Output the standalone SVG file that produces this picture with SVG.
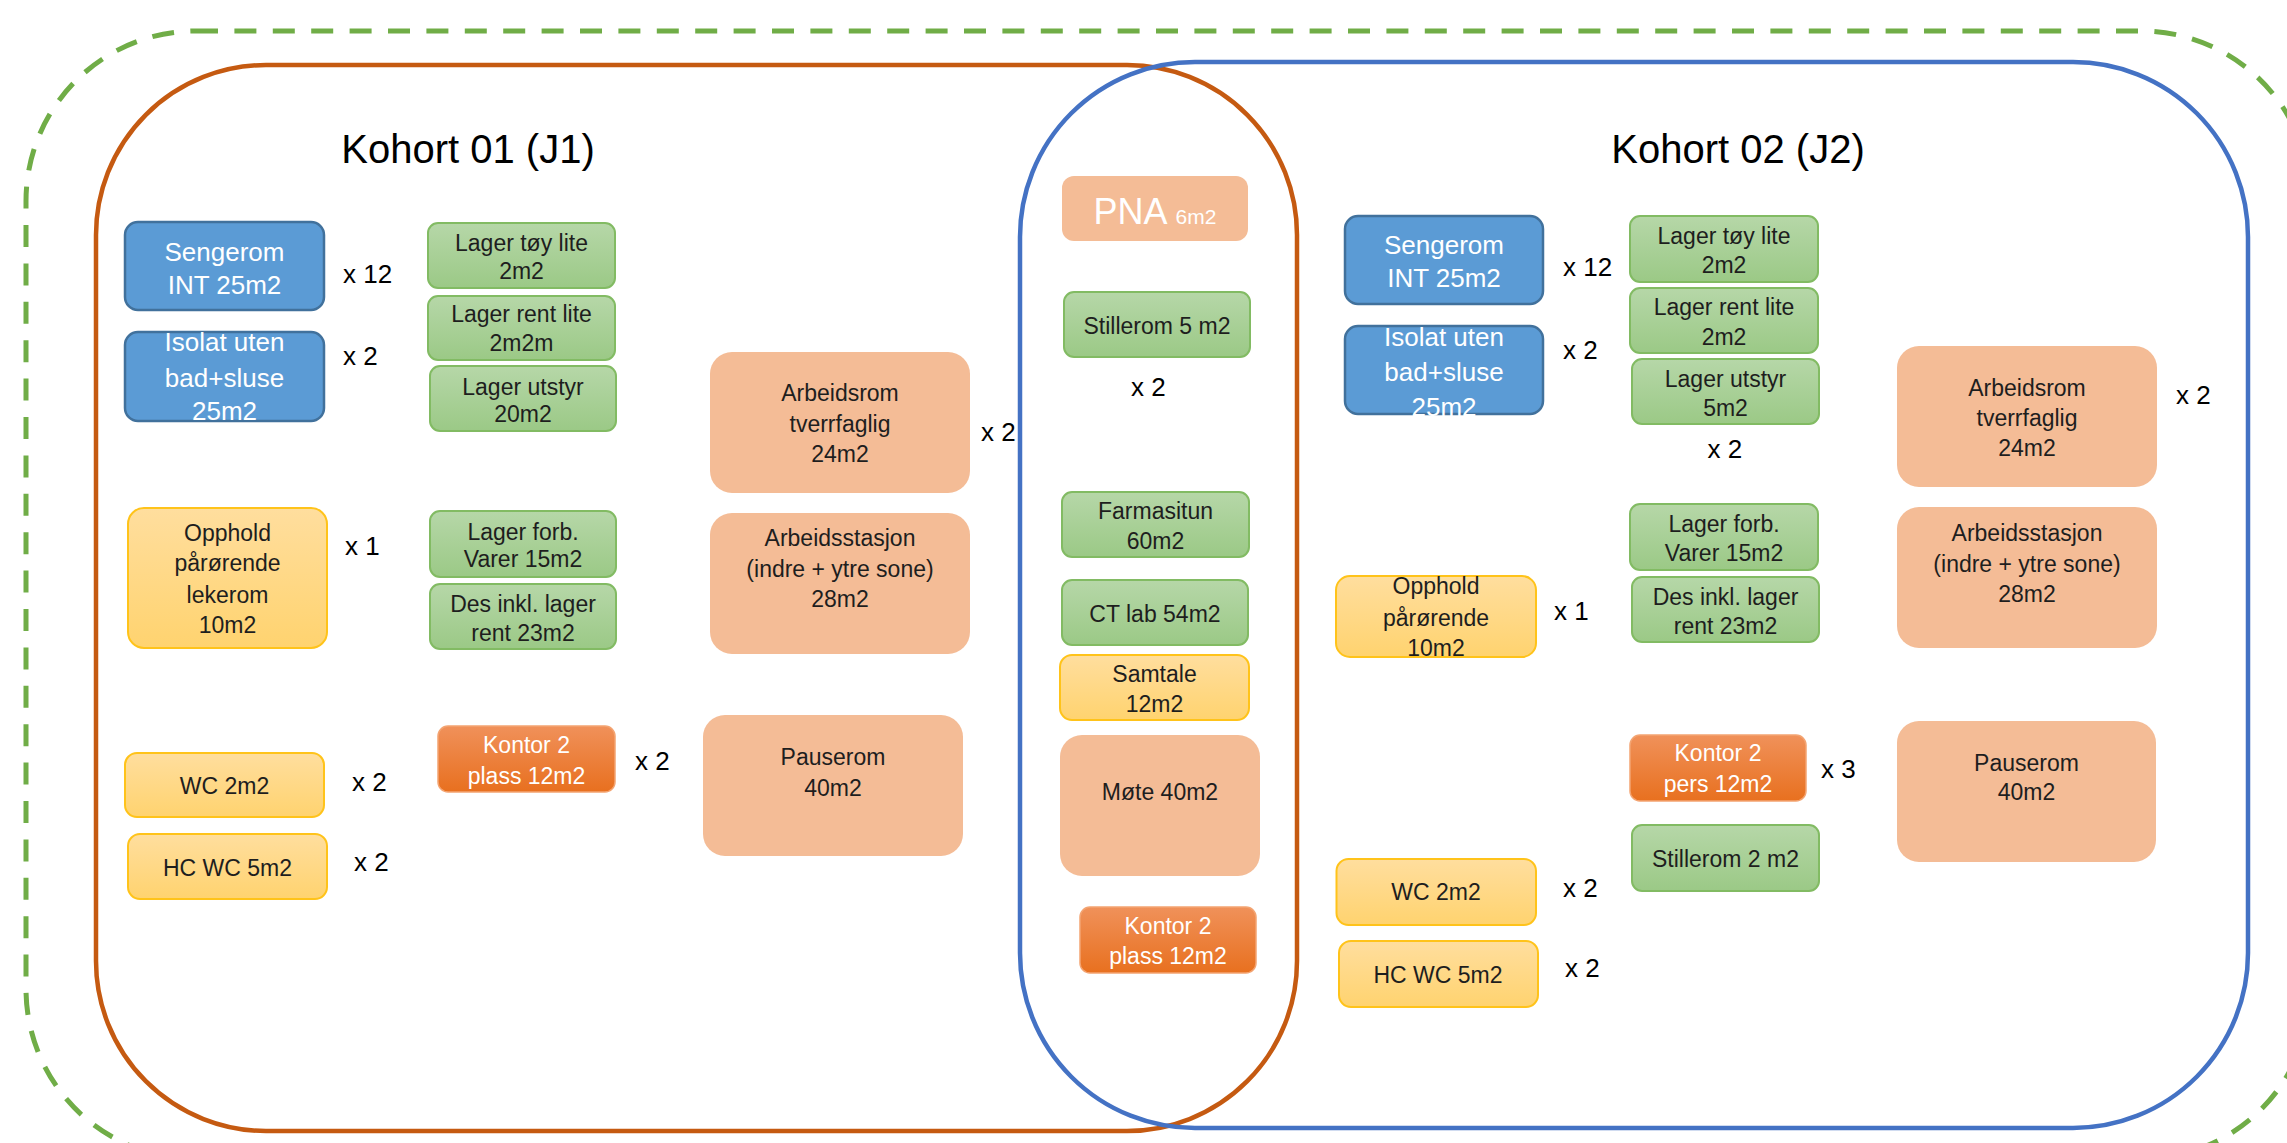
<svg xmlns="http://www.w3.org/2000/svg" width="2287" height="1143" viewBox="0 0 2287 1143">
<defs>
<linearGradient id="gG" x1="0" y1="0" x2="0" y2="1"><stop offset="0" stop-color="#B6D7A8"/><stop offset="1" stop-color="#9BC986"/></linearGradient>
<linearGradient id="gY" x1="0" y1="0" x2="0" y2="1"><stop offset="0" stop-color="#FFDE9E"/><stop offset="1" stop-color="#FFD36F"/></linearGradient>
<linearGradient id="gK" x1="0" y1="0" x2="0" y2="1"><stop offset="0" stop-color="#F0915A"/><stop offset="1" stop-color="#E8701F"/></linearGradient>
<style>
text{font-family:"Liberation Sans",Arial,sans-serif;}
.g{fill:url(#gG);stroke:#82BB63;stroke-width:2}
.b{fill:#5B9BD5;stroke:#41719C;stroke-width:2.5}
.y{fill:url(#gY);stroke:#FFC31A;stroke-width:2}
.p{fill:#F4BC96}
.k{fill:url(#gK);stroke:#F3A472;stroke-width:1.5}
.t{font-size:23px;fill:#1E1E1E;text-anchor:middle}
.tw{font-size:23px;fill:#FFFFFF;text-anchor:middle}
.tb{font-size:26px;fill:#FFFFFF;text-anchor:middle}
.m{font-size:26px;fill:#000000}
.h{font-size:40px;fill:#000000;text-anchor:middle}
</style>
</defs>
<rect x="0" y="0" width="2287" height="1143" fill="#FFFFFF"/>
<g id="regions" fill="none">
<rect x="26" y="31" width="2285" height="1128" rx="170" stroke="#70AD47" stroke-width="5" stroke-dasharray="22 16.4"/>
<rect x="96" y="65" width="1201" height="1066" rx="170" stroke="#C55A11" stroke-width="4.5"/>
<rect x="1020" y="62" width="1228" height="1066" rx="175" stroke="#4472C4" stroke-width="4.5"/>
</g>
<g id="connectors"/>
<g id="headings">
<text class="h" x="468" y="163">Kohort 01 (J1)</text>
<text class="h" x="1738" y="163">Kohort 02 (J2)</text>
</g>
<g id="sengerom1"><rect class="b" x="125" y="222" width="199" height="88" rx="13"/><text class="tb" x="224.5" y="261">Sengerom</text><text class="tb" x="224.5" y="294">INT 25m2</text><text class="m" x="343" y="283">x 12</text></g>
<g id="isolat1"><rect class="b" x="125" y="332" width="199" height="89" rx="13"/><text class="tb" x="224.5" y="351">Isolat uten</text><text class="tb" x="224.5" y="387">bad+sluse</text><text class="tb" x="224.5" y="420">25m2</text><text class="m" x="343" y="365">x 2</text></g>
<g id="lagertoy1"><rect class="g" x="428" y="223" width="187" height="65" rx="10"/><text class="t" x="521.5" y="251">Lager tøy lite</text><text class="t" x="521.5" y="279">2m2</text></g>
<g id="lagerrent1"><rect class="g" x="428" y="296" width="187" height="64" rx="10"/><text class="t" x="521.5" y="322">Lager rent lite</text><text class="t" x="521.5" y="351">2m2m</text></g>
<g id="lagerutstyr1"><rect class="g" x="430" y="366" width="186" height="65" rx="10"/><text class="t" x="523" y="395">Lager utstyr</text><text class="t" x="523" y="422">20m2</text></g>
<g id="arbeidsrom1"><rect class="p" x="710" y="352" width="260" height="141" rx="22"/><text class="t" x="840" y="401">Arbeidsrom</text><text class="t" x="840" y="432">tverrfaglig</text><text class="t" x="840" y="462">24m2</text><text class="m" x="981" y="441">x 2</text></g>
<g id="opphold1"><rect class="y" x="128" y="508" width="199" height="140" rx="16"/><text class="t" x="227.5" y="541">Opphold</text><text class="t" x="227.5" y="571">pårørende</text><text class="t" x="227.5" y="603">lekerom</text><text class="t" x="227.5" y="633">10m2</text><text class="m" x="345" y="555">x 1</text></g>
<g id="lagerforb1"><rect class="g" x="430" y="511" width="186" height="66" rx="10"/><text class="t" x="523" y="540">Lager forb.</text><text class="t" x="523" y="567">Varer 15m2</text></g>
<g id="des1"><rect class="g" x="430" y="584" width="186" height="65" rx="10"/><text class="t" x="523" y="612">Des inkl. lager</text><text class="t" x="523" y="641">rent 23m2</text></g>
<g id="arbeidsstasjon1"><rect class="p" x="710" y="513" width="260" height="141" rx="22"/><text class="t" x="840" y="546">Arbeidsstasjon</text><text class="t" x="840" y="577">(indre + ytre sone)</text><text class="t" x="840" y="607">28m2</text></g>
<g id="wc1"><rect class="y" x="125" y="753" width="199" height="64" rx="12"/><text class="t" x="224.5" y="794">WC 2m2</text><text class="m" x="352" y="791">x 2</text></g>
<g id="hcwc1"><rect class="y" x="128" y="834" width="199" height="65" rx="12"/><text class="t" x="227.5" y="876">HC WC 5m2</text><text class="m" x="354" y="871">x 2</text></g>
<g id="kontor1"><rect class="k" x="438" y="726" width="177" height="66" rx="10"/><text class="tw" x="526.5" y="753">Kontor 2</text><text class="tw" x="526.5" y="784">plass 12m2</text><text class="m" x="635" y="770">x 2</text></g>
<g id="pauserom1"><rect class="p" x="703" y="715" width="260" height="141" rx="22"/><text class="t" x="833" y="765">Pauserom</text><text class="t" x="833" y="796">40m2</text></g>
<g id="pna"><rect class="p" x="1062" y="176" width="186" height="65" rx="12"/><text x="1155" y="224" fill="#FFFFFF" text-anchor="middle" font-size="36">PNA <tspan font-size="21">6m2</tspan></text></g>
<g id="stillerom5"><rect class="g" x="1064" y="292" width="186" height="65" rx="10"/><text class="t" x="1157" y="333.5">Stillerom 5 m2</text><text class="m" x="1131" y="396">x 2</text></g>
<g id="farmasitun"><rect class="g" x="1062" y="492" width="187" height="65" rx="10"/><text class="t" x="1155.5" y="518.5">Farmasitun</text><text class="t" x="1155.5" y="549">60m2</text></g>
<g id="ctlab"><rect class="g" x="1062" y="580" width="186" height="65" rx="10"/><text class="t" x="1155" y="622">CT lab 54m2</text></g>
<g id="samtale"><rect class="y" x="1060" y="655" width="189" height="65" rx="12"/><text class="t" x="1154.5" y="681.5">Samtale</text><text class="t" x="1154.5" y="712">12m2</text></g>
<g id="mote"><rect class="p" x="1060" y="735" width="200" height="141" rx="22"/><text class="t" x="1160" y="800">Møte 40m2</text></g>
<g id="kontormid"><rect class="k" x="1080" y="907" width="176" height="66" rx="10"/><text class="tw" x="1168" y="934">Kontor 2</text><text class="tw" x="1168" y="964">plass 12m2</text></g>
<g id="sengerom2"><rect class="b" x="1345" y="216" width="198" height="88" rx="13"/><text class="tb" x="1444" y="254">Sengerom</text><text class="tb" x="1444" y="287">INT 25m2</text><text class="m" x="1563" y="276">x 12</text></g>
<g id="isolat2"><rect class="b" x="1345" y="326" width="198" height="88" rx="13"/><text class="tb" x="1444" y="345.5">Isolat uten</text><text class="tb" x="1444" y="381">bad+sluse</text><text class="tb" x="1444" y="416">25m2</text><text class="m" x="1563" y="358.5">x 2</text></g>
<g id="lagertoy2"><rect class="g" x="1630" y="216" width="188" height="66" rx="10"/><text class="t" x="1724" y="244">Lager tøy lite</text><text class="t" x="1724" y="272.5">2m2</text></g>
<g id="lagerrent2"><rect class="g" x="1630" y="288" width="188" height="65" rx="10"/><text class="t" x="1724" y="315">Lager rent lite</text><text class="t" x="1724" y="344.5">2m2</text></g>
<g id="lagerutstyr2"><rect class="g" x="1632" y="359" width="187" height="65" rx="10"/><text class="t" x="1725.5" y="387">Lager utstyr</text><text class="t" x="1725.5" y="416">5m2</text><text class="m" x="1707.5" y="457.5">x 2</text></g>
<g id="arbeidsrom2"><rect class="p" x="1897" y="346" width="260" height="141" rx="22"/><text class="t" x="2027" y="396">Arbeidsrom</text><text class="t" x="2027" y="426">tverrfaglig</text><text class="t" x="2027" y="456">24m2</text><text class="m" x="2176" y="404">x 2</text></g>
<g id="lagerforb2"><rect class="g" x="1630" y="504" width="188" height="66" rx="10"/><text class="t" x="1724" y="531.5">Lager forb.</text><text class="t" x="1724" y="561">Varer 15m2</text></g>
<g id="arbeidsstasjon2"><rect class="p" x="1897" y="507" width="260" height="141" rx="22"/><text class="t" x="2027" y="540.5">Arbeidsstasjon</text><text class="t" x="2027" y="572">(indre + ytre sone)</text><text class="t" x="2027" y="601.5">28m2</text></g>
<g id="opphold2"><rect class="y" x="1336" y="576" width="200" height="81" rx="14"/><text class="t" x="1436" y="594">Opphold</text><text class="t" x="1436" y="626">pårørende</text><text class="t" x="1436" y="656">10m2</text><text class="m" x="1554" y="620">x 1</text></g>
<g id="des2"><rect class="g" x="1632" y="577" width="187" height="65" rx="10"/><text class="t" x="1725.5" y="605">Des inkl. lager</text><text class="t" x="1725.5" y="634">rent 23m2</text></g>
<g id="kontor2"><rect class="k" x="1630" y="735" width="176" height="66" rx="10"/><text class="tw" x="1718" y="761">Kontor 2</text><text class="tw" x="1718" y="792">pers 12m2</text><text class="m" x="1821" y="778">x 3</text></g>
<g id="pauserom2"><rect class="p" x="1897" y="721" width="259" height="141" rx="22"/><text class="t" x="2026.5" y="770.5">Pauserom</text><text class="t" x="2026.5" y="799.5">40m2</text></g>
<g id="stillerom2"><rect class="g" x="1632" y="825" width="187" height="66" rx="10"/><text class="t" x="1725.5" y="867">Stillerom 2 m2</text></g>
<g id="wc2"><rect class="y" x="1336.5" y="859" width="199.5" height="66" rx="12"/><text class="t" x="1436" y="900">WC 2m2</text><text class="m" x="1563" y="897">x 2</text></g>
<g id="hcwc2"><rect class="y" x="1339" y="941" width="199" height="66" rx="12"/><text class="t" x="1438" y="982.5">HC WC 5m2</text><text class="m" x="1565" y="977">x 2</text></g>
</svg>
